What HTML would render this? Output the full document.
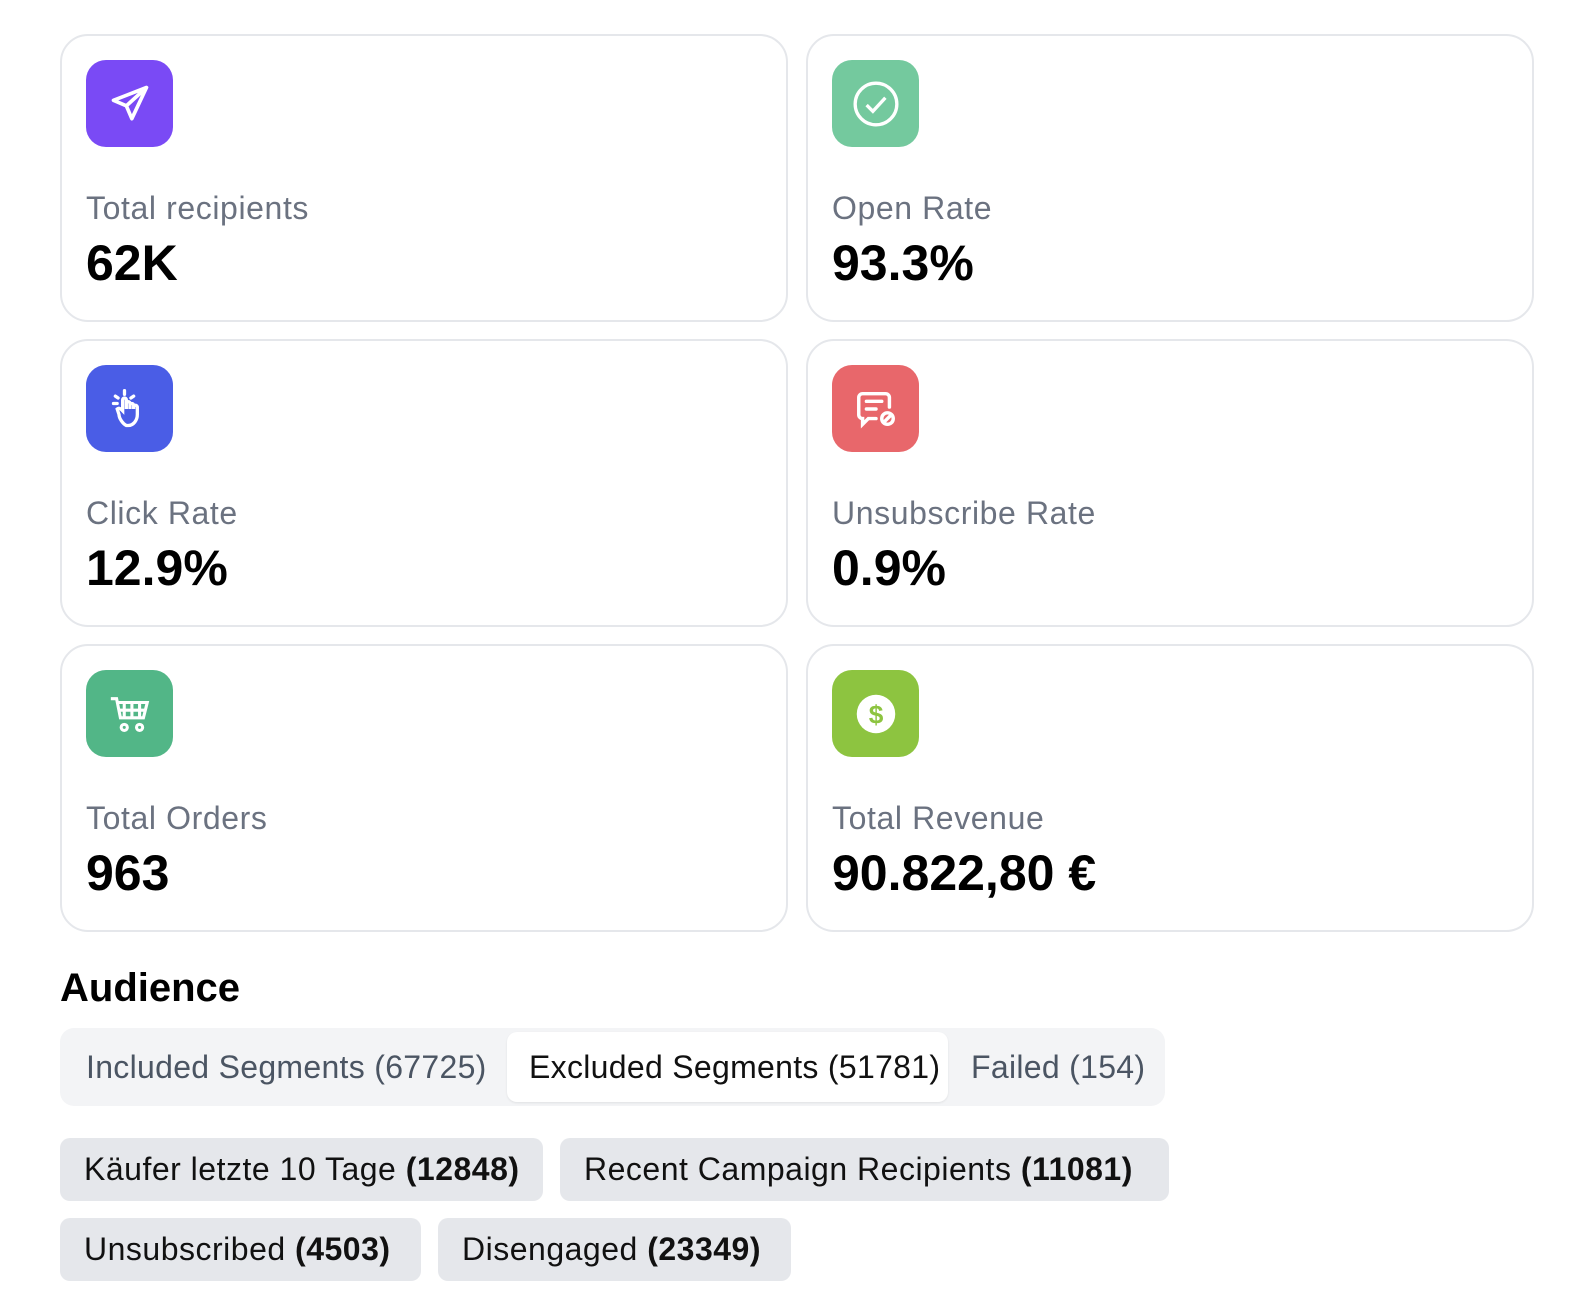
<!DOCTYPE html>
<html><head><meta charset="utf-8"><style>
body{margin:0;width:1584px;height:1312px;background:#fff;font-family:"Liberation Sans",sans-serif;position:relative;overflow:hidden}
.card{position:absolute;border:2px solid #e5e7eb;border-radius:28px;box-sizing:border-box;width:728px;height:288px}
.icon{position:absolute;left:24px;top:24px;width:87px;height:87px;border-radius:20px;display:flex;align-items:center;justify-content:center}
.lbl{position:absolute;left:24px;top:154px;font-size:32px;letter-spacing:0.6px;color:#6b7280;white-space:nowrap}
.val{position:absolute;left:24px;top:198px;font-size:50px;font-weight:bold;color:#000;white-space:nowrap}
.tab{position:absolute;top:1032px;height:70px;line-height:70px;font-size:32px;letter-spacing:0.3px;color:#4b5563;white-space:nowrap;box-sizing:border-box}
.chip{position:absolute;height:63px;line-height:63px;background:#e5e7eb;border-radius:10px;font-size:32px;letter-spacing:0.5px;color:#111;white-space:nowrap;padding-left:24px;box-sizing:border-box}
</style></head><body>
<div class="card" style="left:60px;top:34px">
 <div class="icon" style="background:#7a4af5"><svg width="44" height="44" viewBox="0 0 24 24" fill="none" stroke="#fff" stroke-width="2" stroke-linejoin="round"><path d="M21 3L3 10l7 3 3 7z M10 13l11-10"/></svg></div>
 <div class="lbl">Total recipients</div>
 <div class="val">62K</div>
</div>
<div class="card" style="left:806px;top:34px">
 <div class="icon" style="background:#74c99e"><svg width="50" height="50" viewBox="0 0 24 24" fill="none" stroke="#fff" stroke-width="1.6"><circle cx="12" cy="12" r="10"/><path d="M7.5 12.5l3 3 6-6.5"/></svg></div>
 <div class="lbl">Open Rate</div>
 <div class="val">93.3%</div>
</div>
<div class="card" style="left:60px;top:339px">
 <div class="icon" style="background:#4a5de6"><svg width="44" height="44" viewBox="0 0 24 24" fill="none" stroke="#fff" stroke-width="1.8" stroke-linecap="round"><path d="M10 21c-2-1-4-4-4-6l-1-3c1-1 2 0 3 1V7a1 1 0 012 0v5V9a1 1 0 012 0v3-2a1 1 0 012 0v2-1a1 1 0 012 0v4c0 3-2 6-5 6z M9 2v2 M4 5l1.5 1 M14 5l-1.5 1 M3 9h2"/></svg></div>
 <div class="lbl">Click Rate</div>
 <div class="val">12.9%</div>
</div>
<div class="card" style="left:806px;top:339px">
 <div class="icon" style="background:#e8676b"><svg width="46" height="46" viewBox="0 0 24 24" fill="none" stroke="#fff" stroke-width="1.8" stroke-linecap="round"><path d="M12 17H8l-3 3v-3H5a2 2 0 01-2-2V6a2 2 0 012-2h12a2 2 0 012 2v5 M7 8h8 M7 12h5"/><circle cx="18" cy="17" r="3"/><path d="M16 19l4-4"/></svg></div>
 <div class="lbl">Unsubscribe Rate</div>
 <div class="val">0.9%</div>
</div>
<div class="card" style="left:60px;top:644px">
 <div class="icon" style="background:#52b687"><svg width="46" height="46" viewBox="0 0 24 24" fill="none" stroke="#fff" stroke-width="1.6"><path d="M2 4h3l2 10h12l2-8H6 M9 6v8 M13 6v8 M17 6v8 M6.5 10h14"/><circle cx="9" cy="19" r="1.6"/><circle cx="17" cy="19" r="1.6"/></svg></div>
 <div class="lbl">Total Orders</div>
 <div class="val">963</div>
</div>
<div class="card" style="left:806px;top:644px">
 <div class="icon" style="background:#8dc440"><svg width="42" height="42" viewBox="0 0 24 24"><circle cx="12" cy="12" r="11" fill="#fff"/><text x="12" y="17.5" text-anchor="middle" font-family="Liberation Sans" font-weight="bold" font-size="15" fill="#8dc440">$</text></svg></div>
 <div class="lbl">Total Revenue</div>
 <div class="val">90.822,80 €</div>
</div>
<div style="position:absolute;left:60px;top:966px;font-size:40px;font-weight:bold;color:#000">Audience</div>
<div style="position:absolute;left:60px;top:1028px;width:1105px;height:78px;background:#f3f4f6;border-radius:14px"></div>
<div class="tab" style="left:86px;width:420px">Included Segments (67725)</div>
<div class="tab" style="left:507px;width:441px;padding-left:22px;background:#fff;border-radius:10px;color:#111;box-shadow:0 1px 2px rgba(0,0,0,0.08)">Excluded Segments (51781)</div>
<div class="tab" style="left:971px;width:190px">Failed (154)</div>
<div class="chip" style="left:60px;top:1138px;width:483px">Käufer letzte 10 Tage <b>(12848)</b></div>
<div class="chip" style="left:560px;top:1138px;width:609px">Recent Campaign Recipients <b>(11081)</b></div>
<div class="chip" style="left:60px;top:1218px;width:361px">Unsubscribed <b>(4503)</b></div>
<div class="chip" style="left:438px;top:1218px;width:353px">Disengaged <b>(23349)</b></div>
</body></html>
